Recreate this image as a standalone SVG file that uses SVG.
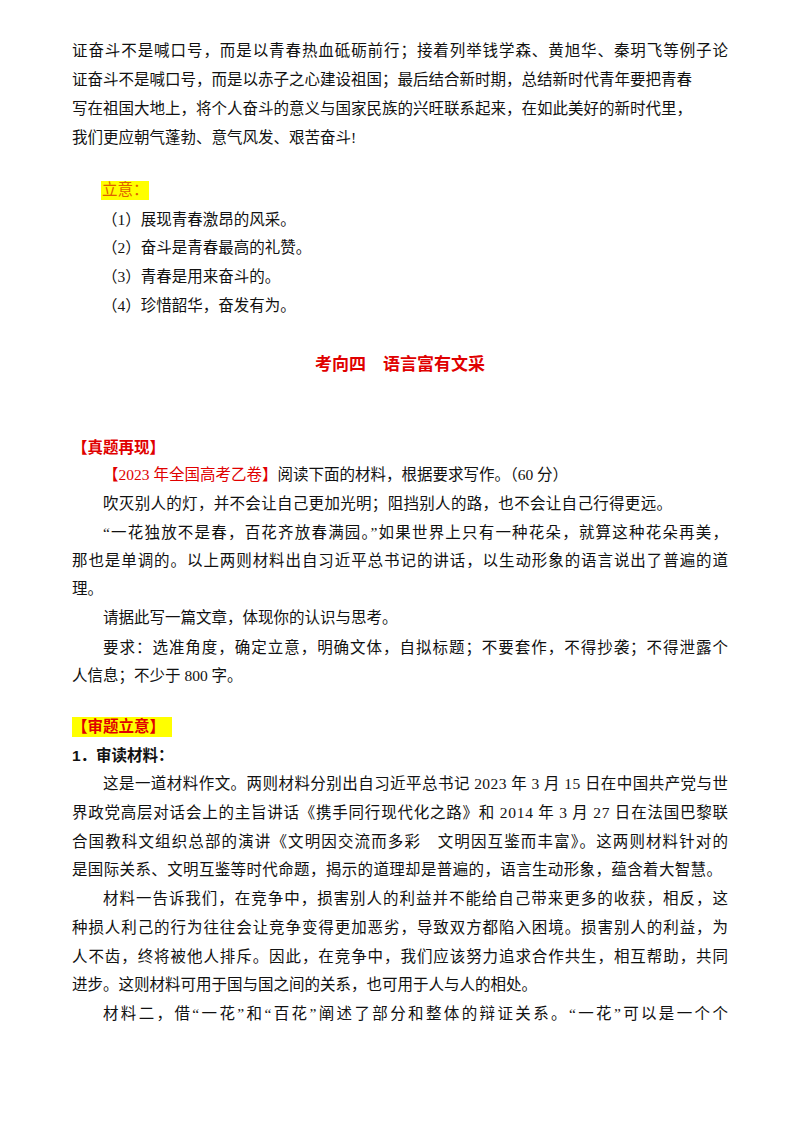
<svg xmlns="http://www.w3.org/2000/svg" width="800" height="1132" viewBox="0 0 800 1132">
<style>
text{font-family:"Liberation Serif","Noto Sans CJK SC",serif;font-size:15.5px;fill:#111}
.r{fill:#e00000}
.b{font-weight:bold}
.h{font-family:"Liberation Sans","Noto Sans CJK SC",sans-serif;font-weight:bold}
.o{fill:#e06000}
</style>
<rect width="800" height="1132" fill="#fff"/>
<text x="72" y="56" textLength="656">证奋斗不是喊口号，而是以青春热血砥砺前行；接着列举钱学森、黄旭华、秦玥飞等例子论</text>
<text x="72" y="85">证奋斗不是喊口号，而是以赤子之心建设祖国；最后结合新时期，总结新时代青年要把青春</text>
<text x="72" y="114">写在祖国大地上，将个人奋斗的意义与国家民族的兴旺联系起来，在如此美好的新时代里，</text>
<text x="72" y="143">我们更应朝气蓬勃、意气风发、艰苦奋斗!</text>
<rect x="101" y="181" width="48" height="19" fill="#ffff00"/>
<text x="102" y="195" class="o">立意：</text>
<text x="102" y="225">（1）展现青春激昂的风采。</text>
<text x="102" y="253">（2）奋斗是青春最高的礼赞。</text>
<text x="102" y="282">（3）青春是用来奋斗的。</text>
<text x="102" y="311">（4）珍惜韶华，奋发有为。</text>
<text x="400" y="370" text-anchor="middle" class="r b" style="font-size:17px" xml:space="preserve">考向四　语言富有文采</text>
<text x="72" y="453" class="r h">【真题再现】</text>
<text x="103" y="480"><tspan class="r">【2023 年全国高考乙卷】</tspan>阅读下面的材料，根据要求写作。（60 分）</text>
<text x="103" y="509" textLength="569">吹灭别人的灯，并不会让自己更加光明；阻挡别人的路，也不会让自己行得更远。</text>
<text x="103" y="538" textLength="625">“一花独放不是春，百花齐放春满园。”如果世界上只有一种花朵，就算这种花朵再美，</text>
<text x="72" y="566" textLength="656">那也是单调的。以上两则材料出自习近平总书记的讲话，以生动形象的语言说出了普遍的道</text>
<text x="72" y="594">理。</text>
<text x="103" y="623">请据此写一篇文章，体现你的认识与思考。</text>
<text x="103" y="653" textLength="625">要求：选准角度，确定立意，明确文体，自拟标题；不要套作，不得抄袭；不得泄露个</text>
<text x="72" y="681">人信息；不少于 800 字。</text>
<rect x="72" y="717" width="100" height="20" fill="#ffff00"/>
<text x="72" y="732" class="r h">【审题立意】</text>
<text x="72" y="761" class="h">1．审读材料：</text>
<text x="103" y="789" textLength="625">这是一道材料作文。两则材料分别出自习近平总书记 2023 年 3 月 15 日在中国共产党与世</text>
<text x="72" y="818" textLength="656">界政党高层对话会上的主旨讲话《携手同行现代化之路》和 2014 年 3 月 27 日在法国巴黎联</text>
<text x="72" y="847" textLength="656" xml:space="preserve">合国教科文组织总部的演讲《文明因交流而多彩　文明因互鉴而丰富》。这两则材料针对的</text>
<text x="72" y="875" textLength="650">是国际关系、文明互鉴等时代命题，揭示的道理却是普遍的，语言生动形象，蕴含着大智慧。</text>
<text x="103" y="904" textLength="625">材料一告诉我们，在竞争中，损害别人的利益并不能给自己带来更多的收获，相反，这</text>
<text x="72" y="933" textLength="656">种损人利己的行为往往会让竞争变得更加恶劣，导致双方都陷入困境。损害别人的利益，为</text>
<text x="72" y="962" textLength="656">人不齿，终将被他人排斥。因此，在竞争中，我们应该努力追求合作共生，相互帮助，共同</text>
<text x="72" y="990">进步。这则材料可用于国与国之间的关系，也可用于人与人的相处。</text>
<text x="103" y="1019" textLength="625">材料二，借“一花”和“百花”阐述了部分和整体的辩证关系。“一花”可以是一个个</text>
</svg>
